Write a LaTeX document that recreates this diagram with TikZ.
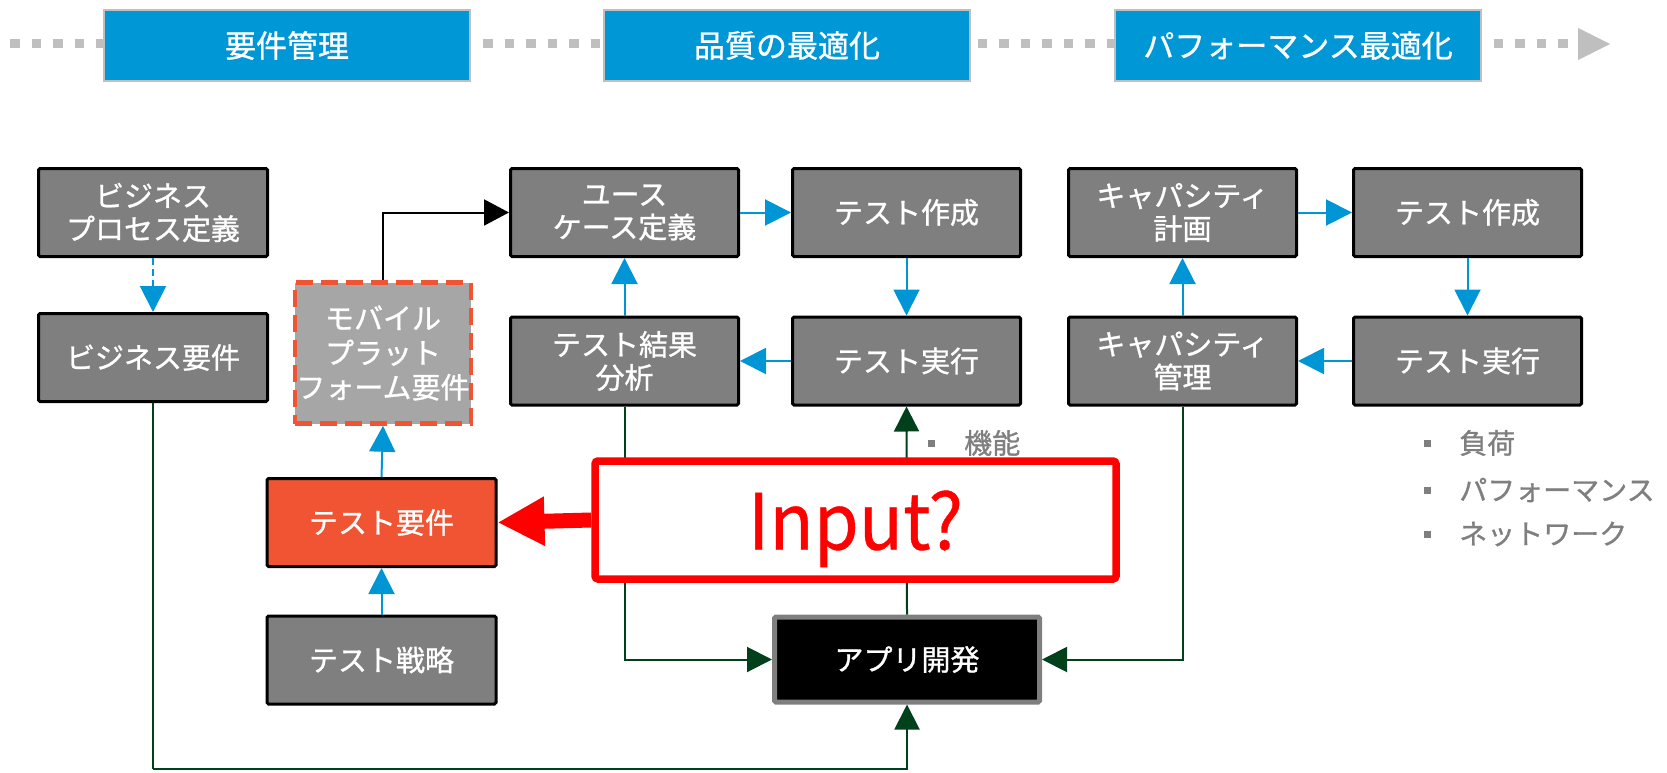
\documentclass[tikz,border=0pt]{standalone}
\usepackage{fontspec}
\setmainfont{Noto Sans CJK JP}[FakeBold=1]
\newfontfamily\inputfont{Noto Sans CJK JP}[FakeBold=0.5]
\usepackage{graphicx}
\usetikzlibrary{arrows.meta,calc}
\definecolor{bannerblue}{RGB}{0,151,214}
\definecolor{bannerborder}{RGB}{191,191,191}
\definecolor{boxgray}{RGB}{127,127,127}
\definecolor{mobgray}{RGB}{166,166,166}
\definecolor{orangered}{RGB}{240,84,51}
\definecolor{arrowblue}{RGB}{0,150,214}
\definecolor{darkgreen}{RGB}{0,64,26}
\definecolor{textgray}{RGB}{127,127,127}
\definecolor{inputred}{RGB}{255,0,0}
\tikzset{
  banner/.style={rectangle, draw=bannerborder, line width=2pt, fill=bannerblue, text=white,
    font=\fontsize{31}{31}\selectfont, minimum width=366pt, minimum height=71pt, inner sep=0pt},
  gbox/.style={rectangle, draw=black, line width=3pt, fill=boxgray, text=white, rounded corners=1.5pt,
    align=center, inner sep=0pt, font=\fontsize{29}{33}\selectfont, minimum width=229pt, minimum height=88pt},
  mobbox/.style={rectangle, draw=orangered, line width=4.5pt, dash pattern=on 17pt off 8pt, fill=mobgray,
    text=white, align=center, inner sep=0pt, font=\fontsize{29}{34.5}\selectfont,
    minimum width=176pt, minimum height=141pt},
  redbox/.style={gbox, fill=orangered},
  appbox/.style={rectangle, draw=boxgray, line width=5pt, fill=black, text=white, rounded corners=1.5pt,
    inner sep=0pt, font=\fontsize{29}{33}\selectfont, minimum width=265pt, minimum height=85pt},
  inputbox/.style={rectangle, draw=inputred, line width=7.5pt, fill=white, rounded corners=3pt,
    text=inputred, inner sep=0pt, text depth=0pt, minimum width=521pt, minimum height=118pt},
  bluearrow/.style={draw=arrowblue, line width=2pt, -{Triangle[length=26pt,width=26pt]}},
  blackarrow/.style={draw=black, line width=2pt, -{Triangle[length=25pt,width=26pt]}},
  greenarrow/.style={draw=darkgreen, line width=2pt, -{Triangle[length=25pt,width=25pt]}},
  greenline/.style={draw=darkgreen, line width=2pt},
  redarrow/.style={draw=inputred, line width=15pt, -{Triangle[length=47pt,width=46pt]}},
  bullettext/.style={text=textgray, anchor=west, inner sep=0pt, font=\fontsize{28}{28}\selectfont},
  bulletsq/.style={fill=textgray}
}
\begin{document}
\begin{tikzpicture}[x=1pt,y=-1pt]
\useasboundingbox (0,0) rectangle (1667,773);
% timeline
\coordinate (dotstart) at (10,44);
\coordinate (dotend) at (1578,44);
\draw[bannerborder, line width=9pt, dash pattern=on 9.5pt off 12pt] (dotstart) -- (dotend);
\fill[bannerborder] (1578,28) -- (1610,44) -- (1578,60) -- cycle;
\node[banner] (ban1) at (287,45.5) {要件管理};
\node[banner] (ban2) at (787,45.5) {品質の最適化};
\node[banner] (ban3) at (1298,45.5) {パフォーマンス最適化};
% left column
\node[gbox] (bpd) at (153,212.5) {ビジネス\\プロセス定義};
\node[gbox] (breq) at (153,357.5) {ビジネス要件};
\node[mobbox] (mob) at (383,353) {モバイル\\プラット\\フォーム要件};
\node[redbox] (treq) at (381.5,522.5) {テスト要件};
\node[gbox] (tstr) at (381.5,660) {テスト戦略};
% middle group
\node[gbox, minimum width=228pt] (uc) at (624.5,212.5) {ユース\\ケース定義};
\node[gbox, minimum width=228pt] (tc1) at (906.5,212.5) {テスト作成};
\node[gbox, minimum width=228pt] (ta) at (624.5,361) {テスト結果\\分析};
\node[gbox, minimum width=228pt] (te1) at (906.5,361) {テスト実行};
% right group
\node[gbox, minimum width=228pt] (cp) at (1182.5,212.5) {キャパシティ\\計画};
\node[gbox, minimum width=228pt] (tc2) at (1467.5,212.5) {テスト作成};
\node[gbox, minimum width=228pt] (cm) at (1182.5,361) {キャパシティ\\管理};
\node[gbox, minimum width=228pt] (te2) at (1467.5,361) {テスト実行};
% app
\node[appbox] (app) at (907,659.5) {アプリ開発};
% bullets
\fill[bulletsq] (927.5,439.5) rectangle (934.5,446.5);
\node[bullettext] (f1) at (964,443) {機能};
\fill[bulletsq] (1423.5,439.5) rectangle (1430.5,446.5);
\node[bullettext] (r1) at (1459,443) {負荷};
\fill[bulletsq] (1423.5,486.5) rectangle (1430.5,493.5);
\node[bullettext] (r2) at (1459,490) {パフォーマンス};
\fill[bulletsq] (1423.5,530.5) rectangle (1430.5,537.5);
\node[bullettext] (r3) at (1459,534) {ネットワーク};
% blue connectors
\draw[bluearrow, dash pattern=on 7pt off 4pt] (bpd.south) -- (breq.north);
\draw[bluearrow] (uc.east) -- (tc1.west);
\draw[bluearrow] (tc1.south) -- (te1.north);
\draw[bluearrow] (te1.west) -- (ta.east);
\draw[bluearrow] (ta.north) -- (uc.south);
\draw[bluearrow] (cp.east) -- (tc2.west);
\draw[bluearrow] (tc2.south) -- (te2.north);
\draw[bluearrow] (te2.west) -- (cm.east);
\draw[bluearrow] (cm.north) -- (cp.south);
\draw[bluearrow] (tstr.north) -- (treq.south);
\draw[bluearrow] (treq.north) -- (mob.south);
% black connector
\draw[blackarrow] (mob.north) |- (uc.west);
% green connectors
\coordinate (bottomturn) at (153,769);
\draw[greenline] (breq.south) -- (bottomturn);
\draw[greenarrow] (bottomturn) -| (app.south);
\draw[greenarrow] (ta.south) |- (app.west);
\draw[greenarrow] (cm.south) |- (app.east);
\draw[greenarrow] (app.north) -- (te1.south);
% input box
\node[inputbox] (inp) at (855.5,520) {\resizebox{215pt}{59pt}{\inputfont\fontsize{80}{80}\selectfont Input?}};
\draw[redarrow] (inp.west) -- (treq.east);
\end{tikzpicture}
\end{document}
